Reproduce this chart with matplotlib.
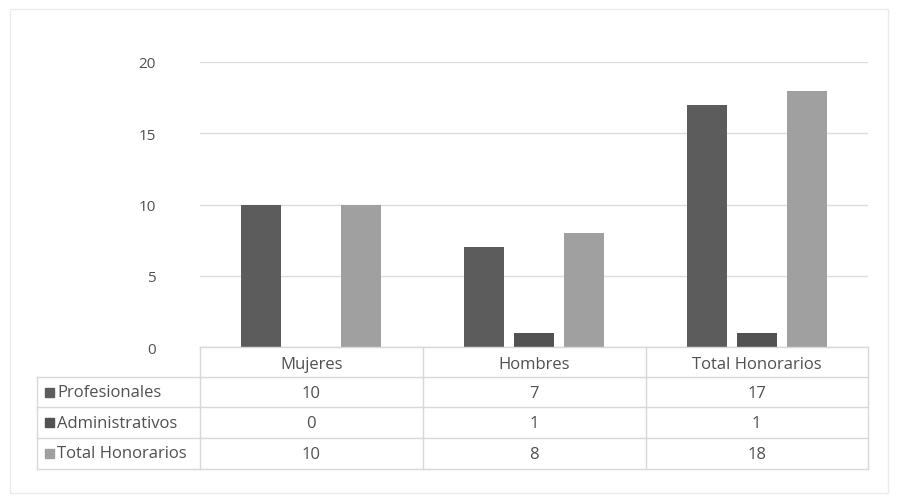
import numpy as np
import matplotlib.pyplot as plt
from matplotlib.lines import Line2D
from matplotlib.patches import Rectangle

# datos del grafico
categorias = ["Mujeres", "Hombres", "Total Honorarios"]
series = ["Profesionales", "Administrativos", "Total Honorarios"]
profesionales = [10, 7, 17]
administrativos = [0, 1, 1]
total_honorarios = [10, 8, 18]
valores = [profesionales, administrativos, total_honorarios]
colores = ["#5c5c5c", "#525252", "#a0a0a0"]

plt.rcParams['font.family'] = ['Open Sans', 'DejaVu Sans']
texto = "#505050"

W, H = 898, 502
fig = plt.figure(figsize=(W / 100, H / 100), dpi=100)
fig.patch.set_facecolor("white")

def fx(px):
    return px / W

def fy(py):
    return 1 - py / H

# marco exterior del grafico
fig.add_artist(Rectangle((fx(10), fy(494)), fx(878), 484 / H, transform=fig.transFigure,
                         fill=False, edgecolor="#ebebeb", lw=1))

left, right, top, base, bottom = 200, 868, 63, 348, 470
ax = fig.add_axes([fx(left), fy(base), fx(right - left), (base - top) / H])

x = np.arange(len(categorias))
ancho = 0.18
paso = 0.224
for i, (vals, col) in enumerate(zip(valores, colores)):
    ax.bar(x + (i - 1) * paso, vals, width=ancho, color=col, zorder=3)

ax.set_xlim(-0.5, len(categorias) - 0.5)
ax.set_ylim(0, 20)
ax.set_yticks([0, 5, 10, 15, 20])
ax.grid(axis="y", color="#dcdcdc", lw=1, zorder=0)
ax.set_xticks([])
for s in ax.spines.values():
    s.set_visible(False)
ax.tick_params(axis="y", length=0, pad=32, labelsize=11, labelcolor=texto)

# tabla de datos bajo el grafico
tab = fig.add_axes([fx(left), fy(bottom), fx(right - left), (bottom - base) / H])
tab.set_xlim(-0.5, len(categorias) - 0.5)
tab.set_ylim(4, 0)
tab.axis("off")

borde = 37
filas = [348, 378, 408, 439, 470]
for py in filas:
    x0 = borde if py != 348 else left
    fig.add_artist(Line2D([fx(x0), fx(right)], [fy(py), fy(py)], transform=fig.transFigure,
                          color="#d8d8d8", lw=1))
for px in [left, 423, 646, right]:
    fig.add_artist(Line2D([fx(px), fx(px)], [fy(348), fy(470)], transform=fig.transFigure,
                          color="#d8d8d8", lw=1))
fig.add_artist(Line2D([fx(borde), fx(borde)], [fy(378), fy(470)], transform=fig.transFigure,
                      color="#d8d8d8", lw=1))

for j, cat in enumerate(categorias):
    tab.text(j, 0.55, cat, ha="center", va="center", fontsize=12, color=texto)
for i, (nombre, vals, col) in enumerate(zip(series, valores, colores)):
    for j, v in enumerate(vals):
        tab.text(j, i + 1.5, str(v), ha="center", va="center", fontsize=12, color=texto)
    cy = (filas[i + 1] + filas[i + 2]) / 2
    fig.add_artist(Rectangle((fx(45), fy(cy + 4.5)), fx(9), 9 / H, transform=fig.transFigure,
                             color=col))
    fig.text(fx(57), fy(cy), nombre, ha="left", va="center", fontsize=12, color=texto)

fig.savefig("out.png", dpi=100)
